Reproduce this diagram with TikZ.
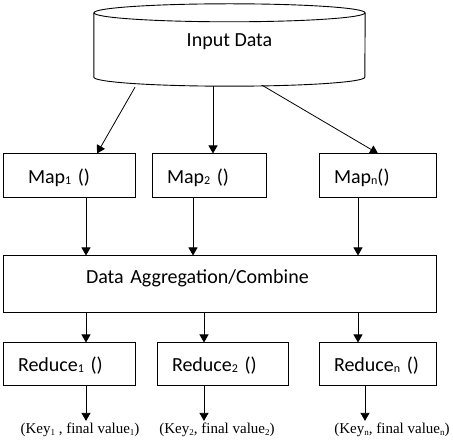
\documentclass[tikz,border=0pt]{standalone}
\usepackage{fontspec}
\setmainfont{Carlito}
\newfontfamily\labelfont{Liberation Serif}
\usetikzlibrary{arrows.meta,positioning,calc}
\newcommand\idx[1]{\raisebox{-0.5pt}{\fontsize{12}{12}\selectfont #1}}
\newcommand\keyidx[1]{\raisebox{-1.5pt}{\fontsize{9}{9}\selectfont #1}}

\begin{document}
\begin{tikzpicture}[
  x=1pt,y=-1pt,
  font=\fontsize{20}{24}\selectfont,
  box/.style={draw,line width=1pt,rectangle,minimum height=44pt,inner xsep=15pt,align=left,text height=16pt,text depth=0pt},
  link/.style={line width=0.8pt,-{Triangle[width=9pt,length=8pt]}},
  result/.style={font=\labelfont\fontsize{15}{18}\selectfont,inner sep=2pt}
]
\useasboundingbox (0,0) rectangle (453,446);
% storage
\node[minimum width=271pt,minimum height=64pt,inner sep=0pt,text height=14pt,text depth=10pt] (data) at (229.5,45) {Input Data};
\draw[line width=0.9pt] (data.north) ellipse (135.5 and 9);
\draw[line width=0.9pt] (data.north west) -- (data.south west) arc (180:0:135.5 and 9) -- (data.north east);
% map stage
\node[box,text width=102pt] (map1) at (69,176) {\hspace*{10pt}Map\idx{1} ()};
\node[box,text width=84pt] (map2) at (209,176) {Map\idx{2} ()};
\node[box,text width=87pt] (mapn) at (377.5,176) {Map\idx{n}()};
\draw[link] ([xshift=-94.5pt,yshift=-10pt]data.south) -- ([xshift=28pt]map1.north);
\draw[link] ([xshift=-16.5pt,yshift=-9pt]data.south) -- ([xshift=4pt]map2.north);
\draw[link] ([xshift=32.5pt,yshift=-8pt]data.south) -- ([xshift=0.5pt]mapn.north);
% combine
\node[box,text width=267pt,inner xsep=83pt,minimum height=57pt,text height=0pt,text depth=2pt] (agg) at (219.5,284.5) {Data Aggregation/Combine};
\draw[link] ([xshift=17pt]map1.south) -- ([xshift=17pt]map1.south |- agg.north);
\draw[link] ([xshift=-16pt]map2.south) -- ([xshift=-16pt]map2.south |- agg.north);
\draw[link] ([xshift=-19.5pt]mapn.south) -- ([xshift=-19.5pt]mapn.south |- agg.north);
% reduce stage
\node[box,text width=102pt,minimum height=43pt,text height=15pt] (red1) at (69,364.5) {Reduce\idx{1} ()};
\node[box,text width=101pt,minimum height=43pt,text height=15pt] (red2) at (222.5,364.5) {Reduce\idx{2} ()};
\node[box,text width=87pt,minimum height=43pt,text height=15pt] (redn) at (377.5,364.5) {Reduce\idx{n} ()};
\draw[link] ([xshift=17pt]red1.north |- agg.south) -- ([xshift=17pt]red1.north);
\draw[link] ([xshift=-18.5pt]red2.north |- agg.south) -- ([xshift=-18.5pt]red2.north);
\draw[link] ([xshift=-19.5pt]redn.north |- agg.south) -- ([xshift=-19.5pt]redn.north);
% results
\node[result] (out1) at (80,430) {(Key\keyidx{1} , final value\keyidx{1})};
\node[result] (out2) at (217,430) {(Key\keyidx{2}, final value\keyidx{2})};
\node[result] (outn) at (392,430) {(Key\keyidx{n}, final value\keyidx{n})};
\draw[link] ([xshift=17pt]red1.south) -- ([xshift=17pt]red1.south |- out1.north);
\draw[link] ([xshift=-18.5pt]red2.south) -- ([xshift=-18.5pt]red2.south |- out2.north);
\draw[link] ([xshift=-12.5pt]redn.south) -- ([xshift=-12.5pt]redn.south |- outn.north);
\end{tikzpicture}
\end{document}
